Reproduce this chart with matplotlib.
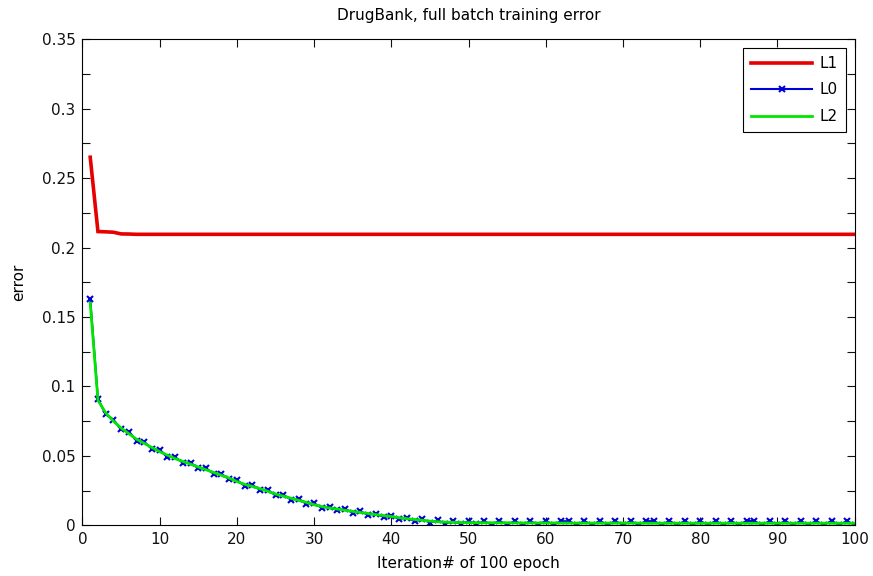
import matplotlib
matplotlib.use("Agg")
import matplotlib.pyplot as plt
from matplotlib.ticker import MultipleLocator

plt.rcParams['font.family'] = ['DejaVu Sans']

iterations = list(range(1, 101))

L1 = [0.265, 0.2115, 0.2113, 0.2110, 0.2098, 0.2097] + [0.2095] * 94

L2 = [0.160, 0.090, 0.081, 0.075, 0.070, 0.066, 0.062, 0.059, 0.056, 0.053,
      0.0505, 0.048, 0.046, 0.044, 0.042, 0.040, 0.038, 0.036, 0.034, 0.0315,
      0.0295, 0.028, 0.0263, 0.0245, 0.0225, 0.021, 0.0195, 0.018, 0.0165, 0.0148,
      0.0135, 0.0125, 0.0117, 0.0108, 0.0100, 0.0092, 0.0085, 0.0077, 0.0070, 0.0063,
      0.0055, 0.0048, 0.0042, 0.0036, 0.0030, 0.0026, 0.0023, 0.0021, 0.0020, 0.0019,
      0.0019, 0.0018, 0.0018, 0.0018, 0.0018, 0.0017, 0.0017, 0.0017, 0.0017, 0.0017,
      0.0017, 0.0016, 0.0016, 0.0016, 0.0016, 0.0016, 0.0016, 0.0016, 0.0016, 0.0016,
      0.0016, 0.0016, 0.0015, 0.0015, 0.0015, 0.0015, 0.0015, 0.0015, 0.0015, 0.0015,
      0.0015, 0.0015, 0.0015, 0.0015, 0.0015, 0.0015, 0.0015, 0.0015, 0.0015, 0.0015,
      0.0015, 0.0015, 0.0015, 0.0015, 0.0015, 0.0015, 0.0015, 0.0015, 0.0015, 0.0015]

L0 = [0.163, 0.091, 0.080, 0.076, 0.069, 0.067, 0.061, 0.060, 0.055, 0.054,
      0.0495, 0.049, 0.045, 0.045, 0.041, 0.041, 0.037, 0.037, 0.033, 0.0325,
      0.0285, 0.029, 0.0255, 0.0255, 0.0215, 0.022, 0.0185, 0.019, 0.0155, 0.0158,
      0.0125, 0.0135, 0.0107, 0.0118, 0.0090, 0.0100, 0.0075, 0.0085, 0.0060, 0.0070,
      0.0045, 0.0055, 0.0030, 0.0043, 0.0020, 0.0035, 0.0012, 0.0032, 0.0008, 0.0030,
      0.0006, 0.0030, 0.0005, 0.0032, 0.0005, 0.0030, 0.0004, 0.0030, 0.0005, 0.0031,
      0.0004, 0.0030, 0.0029, 0.0004, 0.0030, 0.0004, 0.0031, 0.0004, 0.0030, 0.0004,
      0.0030, 0.0004, 0.0030, 0.0030, 0.0004, 0.0031, 0.0004, 0.0030, 0.0004, 0.0030,
      0.0004, 0.0030, 0.0004, 0.0030, 0.0004, 0.0031, 0.0030, 0.0004, 0.0030, 0.0004,
      0.0030, 0.0004, 0.0030, 0.0004, 0.0030, 0.0004, 0.0031, 0.0004, 0.0030, 0.0004]

fig = plt.figure(figsize=(8.73, 5.76), dpi=100)
ax = fig.add_axes([0.0945, 0.088, 0.8845, 0.844])

ax.plot(iterations, L1, color='#e60000', lw=2.6, label='L1', solid_joinstyle='miter')
ax.plot(iterations, L0, color='#0000d8', lw=1.5, marker='x', ms=5, mew=1.5, label='L0')
ax.plot(iterations, L2, color='#00e600', lw=2.0, label='L2')

ax.set_xlim(0, 100)
ax.set_ylim(0, 0.35)
ax.xaxis.set_major_locator(MultipleLocator(10))
ax.yaxis.set_minor_locator(MultipleLocator(0.025))
ax.set_yticks([0, 0.05, 0.1, 0.15, 0.2, 0.25, 0.3, 0.35])
ax.set_yticklabels(['0', '0.05', '0.1', '0.15', '0.2', '0.25', '0.3', '0.35'])
ax.tick_params(which='both', direction='in', top=True, right=True, length=6, width=0.8,
               labelsize=11, pad=5, colors='#111111')
for s in ax.spines.values():
    s.set_linewidth(0.8)

ax.set_title('DrugBank, full batch training error', fontsize=11, pad=14)
ax.set_xlabel('Iteration# of 100 epoch', fontsize=11, labelpad=6)
ax.set_ylabel('error', fontsize=11, labelpad=11)

leg = ax.legend(loc='upper right', fancybox=False, edgecolor='black', framealpha=1,
                fontsize=11, handlelength=4.0, handletextpad=0.5, borderaxespad=0.6,
                labelspacing=0.75, numpoints=1, borderpad=0.5)
leg.get_frame().set_linewidth(0.8)

fig.savefig('out.png', dpi=100)
